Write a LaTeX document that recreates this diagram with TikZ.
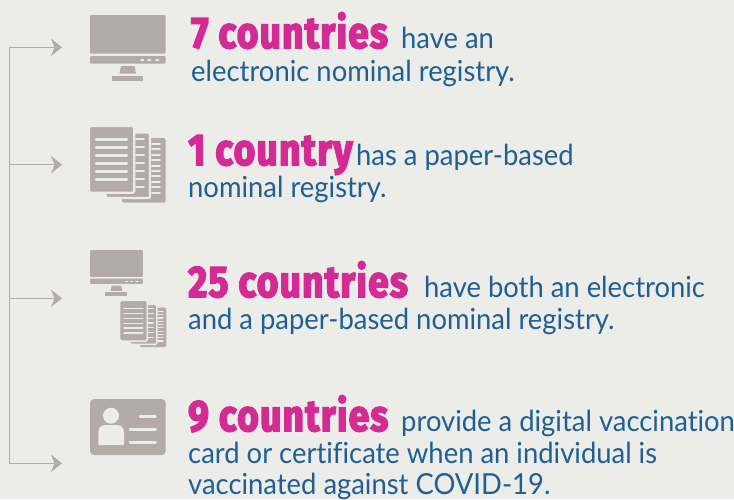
\documentclass[tikz,border=0pt]{standalone}
\usepackage{fontspec}
\usetikzlibrary{arrows.meta}
\setmainfont[Ligatures=NoCommon,FakeStretch=0.945]{Lato}
\newfontfamily\heavyfont[FakeBold=3.5,FakeStretch=0.84,LetterSpace=3,Ligatures=NoCommon]{Fira Sans Bold}
\definecolor{bgc}{HTML}{ECEDE9}
\definecolor{iconc}{HTML}{B3ABA5}
\definecolor{pinkc}{HTML}{D42A94}
\definecolor{bluec}{HTML}{1F5F93}
\tikzset{
  connector/.style={draw=iconc,line width=1.3pt},
  arrowline/.style={connector,-{Stealth[length=11pt,width=17.5pt,inset=3.5pt]}},
  head/.style={anchor=base west,inner sep=0pt,text=pinkc,font=\heavyfont\fontsize{44}{44}\selectfont},
  body/.style={anchor=base west,inner sep=0pt,text=bluec,font=\fontsize{29}{29}\selectfont},
  gap/.style={line width=#1,draw=bgc,line cap=round},
}
\newcommand{\monitoricon}[3]{%
 \begin{scope}[shift={(#1,#2)},scale=#3]
  \fill[iconc,rounded corners=1pt] (0,0) rectangle (75.7,38.5);
  \fill[iconc,rounded corners=1pt] (0,41) rectangle (75.7,48.5);
  \foreach \x in {51,58,66}{\draw[gap=#3*1.8pt] (\x,44.6) -- (\x+2.5,44.6);}
  \fill[iconc] (31,51) -- (44.5,51) -- (46,58.5) -- (29.5,58.5) -- cycle;
  \fill[iconc] (22,60.5) rectangle (53,65.5);
 \end{scope}}
\newcommand{\docicon}[3]{%
 \begin{scope}[shift={(#1,#2)},scale=#3]
  \fill[iconc,rounded corners=1.5pt] (32,11) rectangle (75.7,75.7);
  \foreach \y in {17,22.4,27.8,33.2,38.6,44,49.4,54.8,60.2,65.6}{\draw[gap=#3*1.9pt] (62,\y) -- (70,\y);}
  \draw[bgc,line width=#3*2.4pt,fill=iconc,rounded corners=2pt] (15.5,5.5) rectangle (60,71);
  \foreach \y in {12,20,28,36,44,52,60}{\draw[gap=#3*1.9pt] (46,\y) -- (54,\y);}
  \draw[bgc,line width=#3*2.4pt,fill=iconc,rounded corners=2pt] (-1,-1) rectangle (44.2,65.7);
  \foreach \y in {12.5,20.5,28.5,36.5,44.5,52.5}{\draw[gap=#3*2.2pt] (6,\y) -- (37,\y);}
 \end{scope}}
\begin{document}
\begin{tikzpicture}[x=1pt,y=-1pt]
\fill[bgc] (0,0) rectangle (734,499);
\useasboundingbox (0,0) rectangle (734,499);
% connectors
\coordinate (top) at (9.5,47.3);
\coordinate (bot) at (9.5,463.3);
\coordinate (a1) at (62,47.3);
\coordinate (a2) at (62,164.7);
\coordinate (a3) at (62,298.3);
\coordinate (a4) at (62,463.3);
\draw[connector,line cap=rect] (top) -- (bot);
\draw[arrowline] (top) -- (a1);
\draw[arrowline] (9.5,164.7) -- (a2);
\draw[arrowline] (9.5,298.3) -- (a3);
\draw[arrowline] (bot) -- (a4);
% icons
\monitoricon{90}{15}{1}
\docicon{90}{127}{1}
\monitoricon{90}{250}{0.7}
\docicon{120.3}{301}{0.61}
\begin{scope}[shift={(90,399)}]
  \fill[iconc,rounded corners=4pt] (0,0) rectangle (75.7,56);
  \fill[bgc] (21,16.7) circle (8);
  \fill[bgc] (8.3,45) -- (8.3,33) .. controls (8.3,29) and (11,26) .. (15,26) -- (27,26) .. controls (31,26) and (34,29) .. (34,33) -- (34,45) -- (33,46) -- (9.3,46) -- cycle;
  \draw[gap=3pt] (50,17.3) -- (65.5,17.3);
  \draw[gap=3pt] (40,30.3) -- (65.5,30.3);
  \draw[gap=3pt] (40,43) -- (65.5,43);
\end{scope}
% text
\node[head] (h1) at (191,48) {7 countries};
\node[body] (t1a) at (401,48) {have an};
\node[body] (t1b) at (191,81) {electronic nominal registry.};
\node[head] (h2) at (188,165) {1 country};
\node[body] (t2a) at (356,165) {has a paper-based};
\node[body] (t2b) at (188,197) {nominal registry.};
\node[head] (h3) at (188,297) {25 countries};
\node[body] (t3a) at (424,297) {have both an electronic};
\node[body] (t3b) at (188,329) {and a paper-based nominal registry.};
\node[head] (h4) at (188,431) {9 countries};
\node[body] (t4a) at (401,431) {provide a digital vaccination};
\node[body] (t4b) at (188,463) {card or certificate when an individual is};
\node[body] (t4c) at (188,494) {vaccinated against COVID-19.};
\end{tikzpicture}
\end{document}
